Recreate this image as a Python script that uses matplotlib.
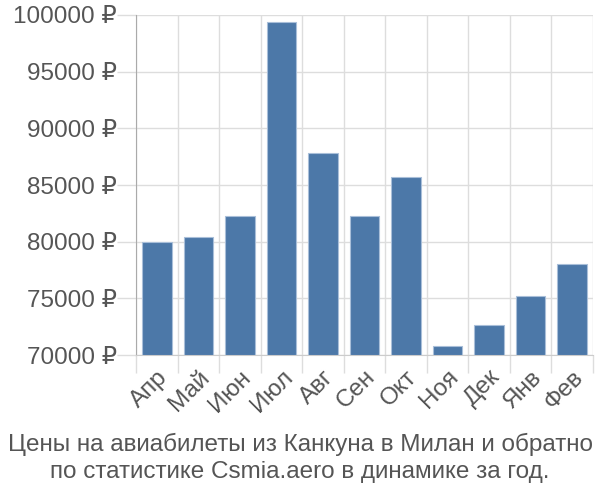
import numpy as np
import matplotlib.pyplot as plt
from matplotlib.ticker import FuncFormatter, FixedLocator

plt.rcParams['font.family'] = ['Liberation Sans', 'DejaVu Sans']

months = ['Апр', 'Май', 'Июн', 'Июл', 'Авг', 'Сен', 'Окт', 'Ноя', 'Дек', 'Янв', 'Фев']
prices = [79960, 80440, 82290, 99370, 87810, 82230, 85700, 70830, 72680, 75180, 78060]
yticks = [70000, 75000, 80000, 85000, 90000, 95000, 100000]
base = 70000

txt = '#555555'
grid = '#dddddd'
fs = 17.5

fig = plt.figure(figsize=(6, 5), dpi=100)
ax = fig.add_axes([0.227, 0.29, 0.761, 0.68])

x = np.arange(len(months))
vals = np.array(prices) - base
ax.bar(x, vals, bottom=base, width=0.72, color='#4c78a8',
       edgecolor='#a9bfd9', linewidth=0.8, zorder=3)

ax.set_xlim(-0.5, len(months) - 0.5)
ax.set_ylim(base, 100000)

ax.set_yticks(yticks)
ax.yaxis.set_major_formatter(FuncFormatter(lambda v, p: f'{int(v)} ₽'))
ax.tick_params(axis='y', length=14, color=grid, width=1, labelsize=fs,
               labelcolor=txt, pad=0)
ax.grid(axis='y', color=grid, linewidth=1, zorder=0)

ax.set_xticks(x)
ax.set_xticklabels(months, rotation=45, ha='right', rotation_mode='anchor')
ax.tick_params(axis='x', which='major', length=0, labelsize=fs,
               labelcolor=txt, pad=8)
ax.xaxis.set_minor_locator(FixedLocator(np.arange(len(months) + 1) - 0.5))
ax.tick_params(axis='x', which='minor', length=13, color=grid, width=1)
ax.grid(axis='x', which='minor', color=grid, linewidth=1, zorder=0)

for s in ['top', 'right']:
    ax.spines[s].set_visible(False)
ax.spines['bottom'].set_color('#cccccc')
ax.spines['left'].set_color('#aaaaaa')

fig.text(0.5, 0.084, 'Цены на авиабилеты из Канкуна в Милан и обратно\n'
         'по статистике Csmia.aero в динамике за год.',
         ha='center', va='center', fontsize=fs, color=txt, linespacing=1.3)

plt.savefig('out.png')
